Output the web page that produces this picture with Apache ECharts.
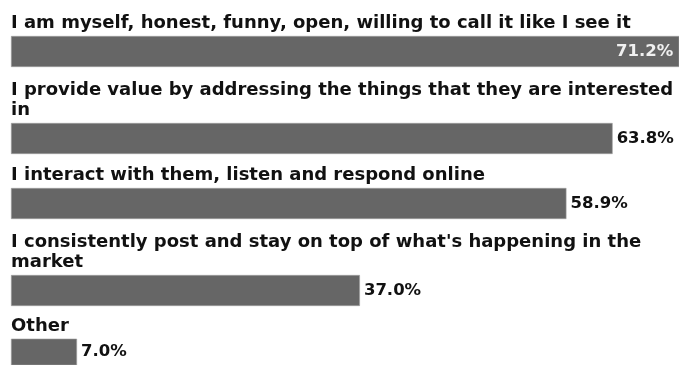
<!DOCTYPE html>
<html>
<head>
<meta charset="utf-8">
<script src="https://cdn.jsdelivr.net/npm/echarts@6/dist/echarts.min.js"></script>
<style>
  html, body { margin: 0; padding: 0; background: #ffffff; }
  #chart { width: 679px; height: 365px; }
</style>
</head>
<body>
<div id="chart"></div>
<script>
// Survey answers and their shares (%)
const categories = [
  "I am myself, honest, funny, open, willing to call it like I see it",
  "I provide value by addressing the things that they are interested in",
  "I interact with them, listen and respond online",
  "I consistently post and stay on top of what's happening in the market",
  "Other"
];
const values = [71.2, 63.8, 58.9, 37.0, 7.0];

// Layout: each answer gets its own row (label above, bar below)
const FONT = "'DejaVu Sans', sans-serif";
const TEXT_SIZE = 18;
const barTops = [36, 123, 188, 275, 339];
const barH = 31;
const plotLeft = 11;
const pxPerPct = 9.43;    // horizontal scale of the bars
const chartWidth = 679;
const wrapWidth = 664;
const axisMax = (chartWidth - plotLeft) / pxPerPct;  // longest bar runs off the edge

// word-wrap a label at whole words so no line starts with a space
const measureCtx = document.createElement('canvas').getContext('2d');
measureCtx.font = 'bold ' + TEXT_SIZE + 'px ' + FONT;
function wrapWords(text, maxW) {
  const words = text.split(' ');
  const lines = [];
  let line = '';
  words.forEach(w => {
    const trial = line ? line + ' ' + w : w;
    if (line && measureCtx.measureText(trial).width > maxW) {
      lines.push(line);
      line = w;
    } else {
      line = trial;
    }
  });
  if (line) lines.push(line);
  return lines.join('\n');
}

const grids = [], xAxes = [], yAxes = [], series = [];
categories.forEach((cat, i) => {
  grids.push({ left: plotLeft, right: 0, top: barTops[i], height: barH });
  xAxes.push({ gridIndex: i, type: 'value', min: 0, max: axisMax, show: false });
  yAxes.push({ gridIndex: i, type: 'category', data: [cat], show: false });

  // value label goes inside the bar when there is no room to its right
  const barEnd = plotLeft + pxPerPct * values[i];
  const inside = barEnd + 62 > chartWidth;
  const wrapped = wrapWords(cat, wrapWidth);

  series.push({
    type: 'bar',
    xAxisIndex: i, yAxisIndex: i,
    data: [values[i]],
    barWidth: barH,
    clip: true,
    itemStyle: { color: '#666666', borderColor: '#a0a0a0', borderWidth: 0.6 },
    label: {
      show: true,
      position: inside ? 'insideRight' : 'right',
      distance: inside ? 6 : 4,
      formatter: p => p.value.toFixed(1) + '%',
      fontFamily: FONT, fontWeight: 'bold', fontSize: 16.5,
      color: inside ? '#f0f0f0' : '#111111'
    },
    silent: true
  });
  // answer text sitting above its bar
  series.push({
    type: 'bar',
    xAxisIndex: i, yAxisIndex: i,
    data: [values[i]],
    barWidth: barH,
    barGap: '-100%',
    itemStyle: { color: 'rgba(0,0,0,0)' },
    label: {
      show: true,
      position: [0, -3],
      align: 'left',
      verticalAlign: 'bottom',
      formatter: () => wrapped,
      lineHeight: 20,
      fontFamily: FONT, fontWeight: 'bold', fontSize: TEXT_SIZE,
      color: '#111111'
    },
    silent: true
  });
});

const chart = echarts.init(document.getElementById('chart'), null, { renderer: 'canvas' });
chart.setOption({
  animation: false,
  grid: grids,
  xAxis: xAxes,
  yAxis: yAxes,
  series: series
});
</script>
</body>
</html>
